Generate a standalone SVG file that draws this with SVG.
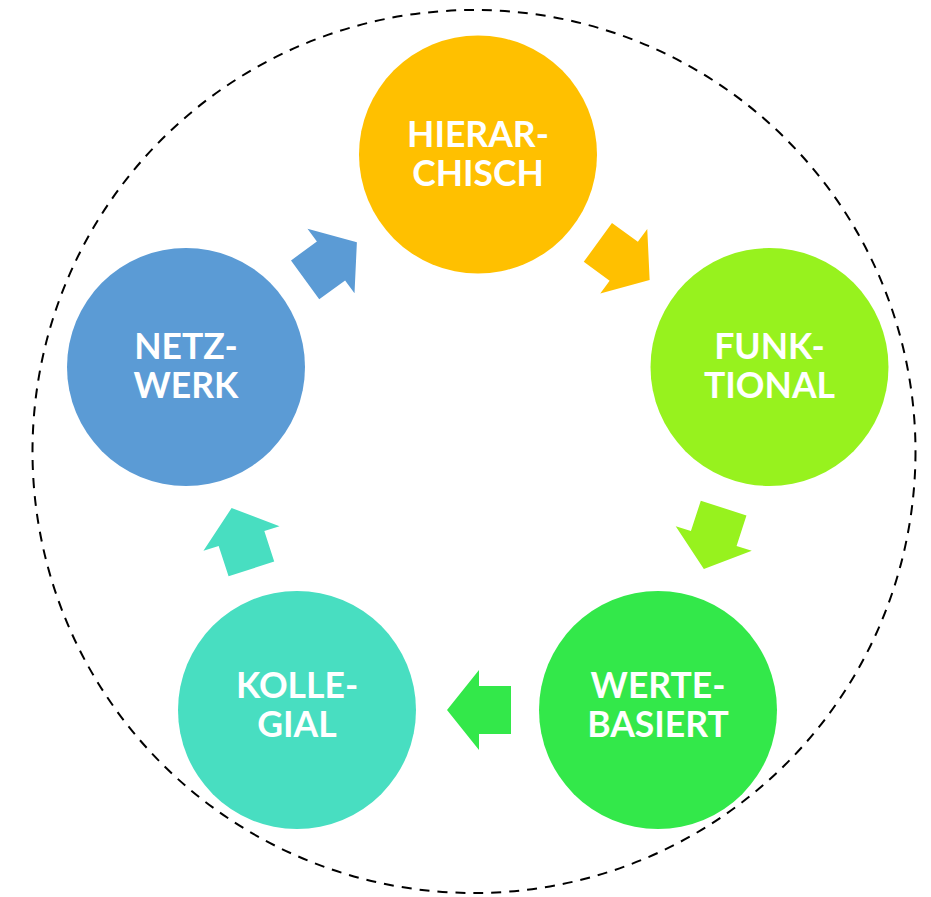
<svg xmlns="http://www.w3.org/2000/svg" width="931" height="897" viewBox="0 0 931 897">
<style>
.lbl{font-family:Lato,"Noto Sans","Liberation Sans",sans-serif;font-weight:700;font-size:35.5px;fill:#ffffff;text-anchor:middle}
.ring{fill:none;stroke:#000000;stroke-width:2;stroke-dasharray:10 8}
</style>
<defs>
<polygon id="arr" points="32,0 0,-40 0,-24 -32,-24 -32,24 0,24 0,40"/>
</defs>
<rect width="931" height="897" fill="#ffffff"/>
<circle class="ring" cx="474" cy="451.5" r="441.5"/>
<g id="connectors">
<use href="#arr" fill="#FFC000" transform="translate(623.75,261.25) rotate(36)"/>
<use href="#arr" fill="#97F21E" transform="translate(713.75,538.5) rotate(108)"/>
<use href="#arr" fill="#33E84A" transform="translate(479,710) rotate(180)"/>
<use href="#arr" fill="#48DEC1" transform="translate(241.5,538.5) rotate(252)"/>
<use href="#arr" fill="#5B9BD5" transform="translate(331,261) rotate(-36)"/>
</g>
<g id="hierarchisch">
<circle cx="478" cy="154.5" r="119" fill="#FFC000"/>
<text class="lbl" x="478" y="147">HIERAR-</text>
<text class="lbl" x="478" y="186">CHISCH</text>
</g>
<g id="funktional">
<circle cx="769.5" cy="367" r="119" fill="#97F21E"/>
<text class="lbl" x="769.5" y="359">FUNK-</text>
<text class="lbl" x="769.5" y="398">TIONAL</text>
</g>
<g id="wertebasiert">
<circle cx="658" cy="710" r="119" fill="#33E84A"/>
<text class="lbl" x="658" y="698">WERTE-</text>
<text class="lbl" x="658" y="737">BASIERT</text>
</g>
<g id="kollegial">
<circle cx="297" cy="710" r="119" fill="#48DEC1"/>
<text class="lbl" x="297" y="698">KOLLE-</text>
<text class="lbl" x="297" y="737">GIAL</text>
</g>
<g id="netzwerk">
<circle cx="186" cy="367" r="119" fill="#5B9BD5"/>
<text class="lbl" x="186" y="359">NETZ-</text>
<text class="lbl" x="186" y="398">WERK</text>
</g>
</svg>
